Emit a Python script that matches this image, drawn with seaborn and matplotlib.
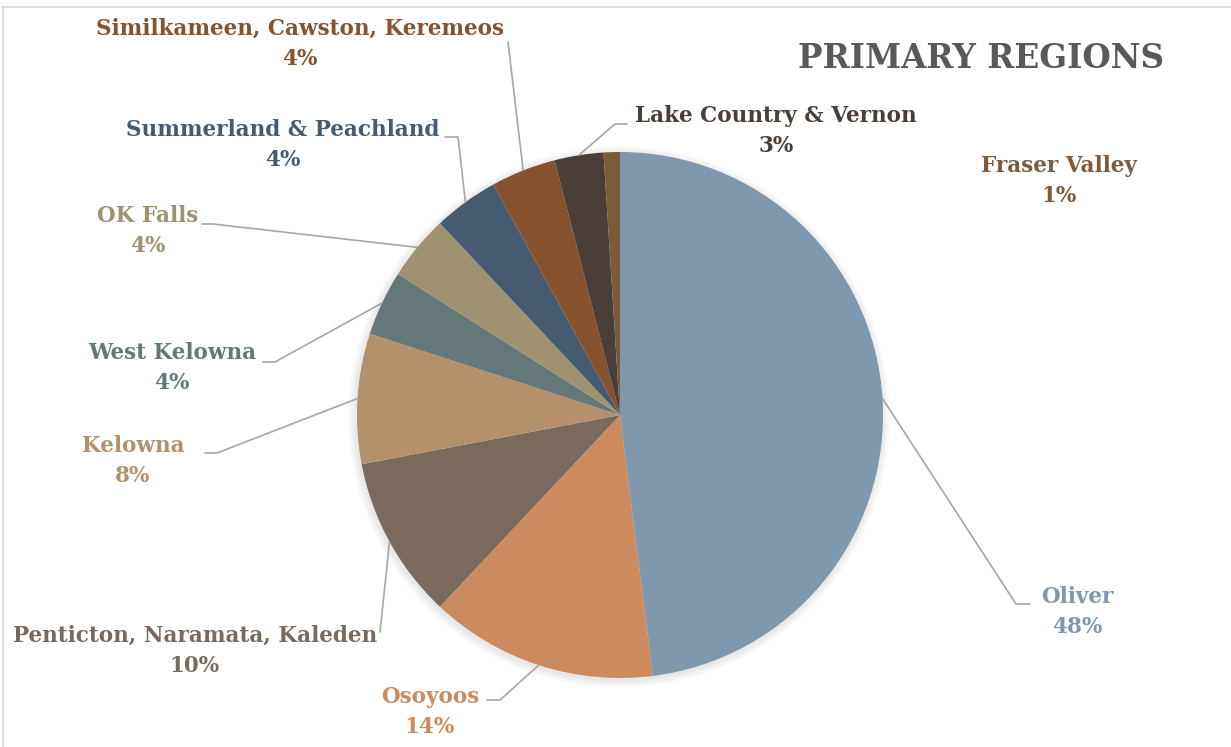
import numpy as np
import seaborn as sns
import matplotlib.pyplot as plt
from matplotlib.patches import Circle

regions = ['Oliver', 'Osoyoos', 'Penticton, Naramata, Kaleden', 'Kelowna',
           'West Kelowna', 'OK Falls', 'Summerland & Peachland',
           'Similkameen, Cawston, Keremeos', 'Lake Country & Vernon', 'Fraser Valley']
shares = [48, 14, 10, 8, 4, 4, 4, 4, 3, 1]
slice_colors = ['#7F98AE', '#CC8B5E', '#7A6A5E', '#B4916A', '#657879',
                '#9E9270', '#465A70', '#87522E', '#4A3F38', '#7B5B3A']

# label layout in pixels (x, y of label centre) and leader elbows
H = 747
label_pos = [(1077, 612), (430, 712), (195, 651), (133, 461), (172, 368),
             (148, 231), (283, 145), (300, 44), (776, 131), (1059, 181)]
leaders = [[(1016, 604), (1030, 604)], [(500, 700), (487, 700)],
           [(380, 632)], [(217, 453), (205, 453)], [(275, 362), (263, 362)],
           [(213, 224), (202, 224)], [(458, 137), (445, 137)],
           [(508, 42)], [(615, 124), (627, 124)], None]

sns.set_theme(style='white')
plt.rcParams['font.family'] = ['DejaVu Serif']
palette = sns.color_palette(slice_colors)

fig = plt.figure(figsize=(12.31, 7.47), dpi=100)
ax = fig.add_axes([0, 0, 1, 1])

cx, cy, r = 620, H - 415, 263

# soft shadow
for k in range(8, 0, -1):
    ax.add_patch(Circle((cx - 1, cy - 2), r + k, color='black', alpha=0.012, lw=0, zorder=0))

wedges, _ = ax.pie(shares, colors=palette, startangle=90, counterclock=False,
                   center=(cx, cy), radius=r, frame=True,
                   wedgeprops=dict(linewidth=0))
ax.set_xlim(0, 1231)
ax.set_ylim(0, H)
ax.set_aspect('equal')
ax.axis('off')

for w, name, val, col, pos, lead in zip(wedges, regions, shares, slice_colors, label_pos, leaders):
    ang = np.deg2rad((w.theta1 + w.theta2) / 2)
    x0, y0 = cx + r * np.cos(ang), cy + r * np.sin(ang)
    if lead is not None:
        xs = [x0] + [p[0] for p in lead]
        ys = [y0] + [H - p[1] for p in lead]
        ax.plot(xs, ys, color='#A6A6A6', lw=1.2, zorder=3)
    ax.text(pos[0], H - pos[1], f'{name}\n{val}%', color=col, ha='center', va='center',
            fontsize=15.5, fontweight='bold', linespacing=1.5)

ax.text(981, H - 58, 'PRIMARY REGIONS', color='#595959', ha='center', va='center',
        fontsize=23.5, fontweight='bold')

# chart frame: only top and left edges show
ax.plot([2, 1231], [H - 7, H - 7], color='#D9D9D9', lw=1.3, clip_on=False)
ax.plot([3, 3], [H - 7, 0], color='#D9D9D9', lw=1.3, clip_on=False)

fig.savefig('out.png', dpi=100, facecolor='white')
